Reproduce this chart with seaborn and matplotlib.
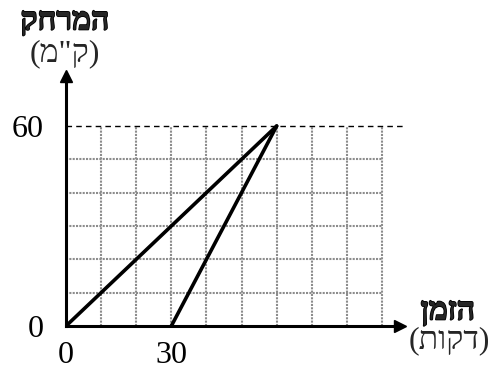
import pandas as pd
import numpy as np
import matplotlib
matplotlib.use("Agg")
import matplotlib.pyplot as plt
import matplotlib.patheffects as pe
import seaborn as sns

# נתונים
time_a = [0, 60]
dist_a = [0, 60]
time_b = [30, 60]
dist_b = [0, 60]
x_ticks = [0, 30]
y_ticks = [0, 60]
grid_x = [10, 20, 30, 40, 50, 60, 70, 80, 90]
grid_y = [10, 20, 30, 40, 50, 60]
y_label = ["המרחק", "(ק\"מ)"]
x_label = ["הזמן", "(דקות)"]


def visual(s):
    # matplotlib לא הופך טקסט מימין לשמאל
    s = s[::-1]
    return s.translate(str.maketrans("()", ")("))


sns.set_style("white")
plt.rcParams['font.family'] = ['Liberation Serif', 'DejaVu Sans']

df = pd.concat([
    pd.DataFrame({'time': time_a, 'dist': dist_a, 'line': 'a'}),
    pd.DataFrame({'time': time_b, 'dist': dist_b, 'line': 'b'}),
])

W, H = 497, 373
fig = plt.figure(figsize=(W / 100, H / 100), dpi=100)
x0, y0 = 66, 326
px_x = 316 / 90
px_y = 200 / 60
xmax, ymax = 95, 75
ax = fig.add_axes([x0 / W, (H - y0) / H, xmax * px_x / W, ymax * px_y / H])

# רשת
ax.vlines(grid_x, 0, max(grid_y), colors='#8c8c8c', linestyles=(0, (1, 0.6)), linewidth=1.5, zorder=1)
ax.hlines(grid_y[:-1], 0, max(grid_x), colors='#8c8c8c', linestyles=(0, (1, 0.6)), linewidth=1.5, zorder=1)
ax.plot([0, 96], [60, 60], color='black', linestyle=(0, (4, 3)), linewidth=1.0, clip_on=False, zorder=2)

sns.lineplot(data=df, x='time', y='dist', hue='line', palette=['black', 'black'],
             linewidth=2.6, legend=False, ax=ax, zorder=3)

ax.set_xlim(0, xmax)
ax.set_ylim(0, ymax)
for s in ['top', 'right']:
    ax.spines[s].set_visible(False)
for s in ['left', 'bottom']:
    ax.spines[s].set_linewidth(2.2)
    ax.spines[s].set_color('black')
ax.plot(1, 0, '>', color='black', markersize=8, transform=ax.get_yaxis_transform(), clip_on=False)
ax.plot(0, 1, '^', color='black', markersize=8, transform=ax.get_xaxis_transform(), clip_on=False)

ax.set_xticks(x_ticks)
ax.set_yticks(y_ticks)
ax.set_xticklabels([str(v) for v in x_ticks])
ax.set_yticklabels([str(v) for v in y_ticks])
ax.tick_params(direction='out', length=11, width=1.8, labelsize=23, color='black', labelcolor='black')
ax.tick_params(axis='x', pad=0)
ax.tick_params(axis='y', pad=5)
ax.set_xlabel('')
ax.set_ylabel('')

bold = [pe.withStroke(linewidth=1.2, foreground='black')]
fig.text(65 / W, 1 - 22 / H, visual(y_label[0]), ha='center', va='center', fontsize=23,
         fontweight='bold', path_effects=bold)
fig.text(65 / W, 1 - 54 / H, visual(y_label[1]), ha='center', va='center', fontsize=23)
fig.text(448 / W, 1 - 312 / H, visual(x_label[0]), ha='center', va='center', fontsize=23,
         fontweight='bold', path_effects=bold)
fig.text(449 / W, 1 - 341 / H, visual(x_label[1]), ha='center', va='center', fontsize=23)

fig.savefig("out.png", dpi=100)
